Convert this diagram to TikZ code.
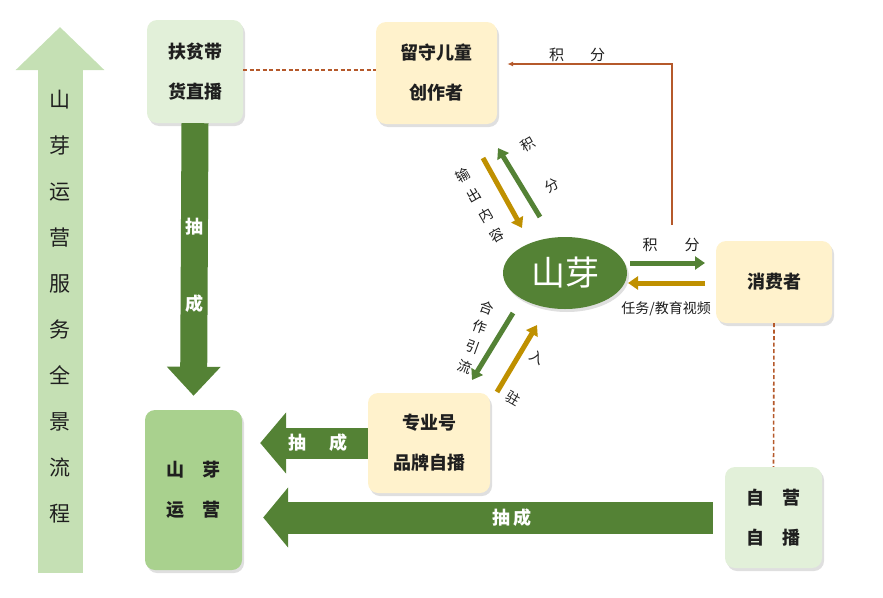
\documentclass[tikz,border=0pt]{standalone}
\usepackage{fontspec}
\setmainfont{Noto Sans CJK SC}
\usetikzlibrary{arrows.meta,calc,positioning,shapes.geometric,shadows}
\definecolor{LeafDark}{HTML}{548235}
\definecolor{LeafMid}{HTML}{A9D18E}
\definecolor{LeafPale}{HTML}{C5E0B4}
\definecolor{LeafSoft}{HTML}{E2F0D9}
\definecolor{CreamSoft}{HTML}{FFF2CC}
\definecolor{Gold}{HTML}{BF9000}
\definecolor{Rust}{HTML}{B5592B}
\definecolor{Ink}{HTML}{1F1F1F}

\begin{document}
\begin{tikzpicture}[
        x=1pt, y=-1pt,
        font=\fontsize{18}{40}\selectfont,
        text=Ink,
        card/.style={
            rounded corners=10pt,
            align=center,
            inner sep=0pt,
            font=\fontsize{18}{40}\selectfont\bfseries,
            drop shadow={shadow xshift=2pt, shadow yshift=-3pt, opacity=0.25}
        },
        thinarr/.style={line width=5pt, -{Triangle[length=10pt,width=13pt]}},
        garr/.style={thinarr, draw=LeafDark},
        yarr/.style={thinarr, draw=Gold},
        blockarr/.style={draw=LeafDark, line width=#1},
        link/.style={draw=Rust, line width=1.6pt, dash pattern=on 4pt off 2.5pt},
        small/.style={font=\fontsize{14}{23}\selectfont},
        white/.style={text=white, font=\fontsize{18}{20}\selectfont\bfseries}
    ]
        \useasboundingbox (0,0) rectangle (883,597);

        % overall flow
        \coordinate (flowbot) at (60,573);
        \coordinate (flowtop) at (60,27);
        \draw[draw=LeafPale, line width=45pt, -{Triangle[length=43pt,width=86pt]}] (flowbot) -- (flowtop);
        \node[align=center, font=\fontsize{21}{46}\selectfont] (liucheng) at (60,307)
            {山\\芽\\运\\营\\服\\务\\全\\景\\流\\程};

        % boxes
        \node[card, fill=LeafSoft, minimum width=96pt, minimum height=103pt] (fupin) at (195,71.5) {扶贫带\\货直播};
        \node[card, fill=CreamSoft, minimum width=121pt, minimum height=102pt] (liushou) at (436.5,73) {留守儿童\\创作者};
        \node[card, fill=CreamSoft, minimum width=116pt, minimum height=82pt] (xiaofei) at (774,282) {消费者};
        \node[card, fill=CreamSoft, minimum width=122pt, minimum height=100pt] (zhuanye) at (429,443) {专业号\\品牌自播};
        \node[card, fill=LeafSoft, minimum width=97pt, minimum height=101pt] (ziying) at (773.5,517.5) {自　营\\自　播};
        \node[card, fill=LeafMid, minimum width=97pt, minimum height=160pt] (yunying) at (193.5,490) {山　芽\\运　营};

        \node[ellipse, fill=LeafDark, minimum width=124pt, minimum height=72pt, inner sep=0pt,
            text=white, font=\fontsize{34}{36}\selectfont,
            drop shadow={shadow xshift=2pt, shadow yshift=-3pt, opacity=0.25}] (shanya) at (565,273) {山芽};

        % dashed links
        \draw[link] (fupin.east |- 0,70) -- (liushou.west |- 0,70);
        \draw[link] (xiaofei.south) -- (ziying.north);

        % points back to the creators
        \coordinate (jfend) at (672,225);
        \coordinate (jftop) at (672,64);
        \draw[draw=Rust, line width=1.4pt, -{Latex[length=6pt,width=5pt]}, shorten >=10pt]
            (jfend) -- (jftop) -- (liushou.east |- jftop);
        \node[font=\fontsize{15}{16}\selectfont] (jflabel) at (577,55) {积\hspace{26pt}分};

        % commission arrows
        \draw[blockarr=27pt, -{Triangle[length=29pt,width=52pt]}, shorten >=14pt]
            (fupin.south) -- (yunying.north)
            node[white, pos=0.36] (chou1) {抽}
            node[white, pos=0.63] (cheng1) {成};
        \draw[blockarr=31pt, -{Triangle[length=26pt,width=60pt]}, shorten >=18pt]
            (zhuanye.west) -- (yunying.east |- zhuanye.west)
            node[white, pos=0.4] (chou2) {抽\hspace{23pt}成};
        \draw[blockarr=32pt, -{Triangle[length=25pt,width=59pt]}, shorten <=12pt, shorten >=21pt]
            (ziying.west) -- (yunying.east |- ziying.west)
            node[white, pos=0.44] (chou3) {抽\,成};

        % shanya <-> consumers
        \coordinate (ra) at (630,263);
        \coordinate (rb) at (705,263);
        \coordinate (rc) at (705,283);
        \coordinate (rd) at (628,283);
        \draw[garr] (ra) -- (rb);
        \draw[yarr] (rc) -- (rd);
        \node[font=\fontsize{15}{16}\selectfont] (jf2) at (671,245) {积\hspace{27pt}分};
        \node[small] (renwu) at (666,309) {任务/教育视频};

        % shanya <-> creators
        \coordinate (ua) at (483,158);
        \coordinate (ub) at (522,228);
        \coordinate (uc) at (540,217);
        \coordinate (ud) at (498,148);
        \draw[yarr] (ua) -- (ub);
        \draw[garr] (uc) -- (ud);
        \node[small, align=center, rotate=30] (shuchu) at (480,205) {输\\出\\内\\容};
        \node[small, align=center, rotate=30, font=\fontsize{14}{47}\selectfont] (jf3) at (540,165) {积\\分};

        % shanya <-> brands
        \coordinate (la) at (513,313);
        \coordinate (lb) at (472,380);
        \coordinate (lc) at (497,392);
        \coordinate (ld) at (537,325);
        \draw[garr] (la) -- (lb);
        \draw[yarr] (lc) -- (ld);
        \node[small, align=center, rotate=-20, font=\fontsize{14}{21}\selectfont] (hezuo) at (476,337) {合\\作\\引\\流};
        \node[small, align=center, rotate=-30, font=\fontsize{14}{47}\selectfont] (ruzhu) at (525,378) {入\\驻};
    \end{tikzpicture}
\end{document}
